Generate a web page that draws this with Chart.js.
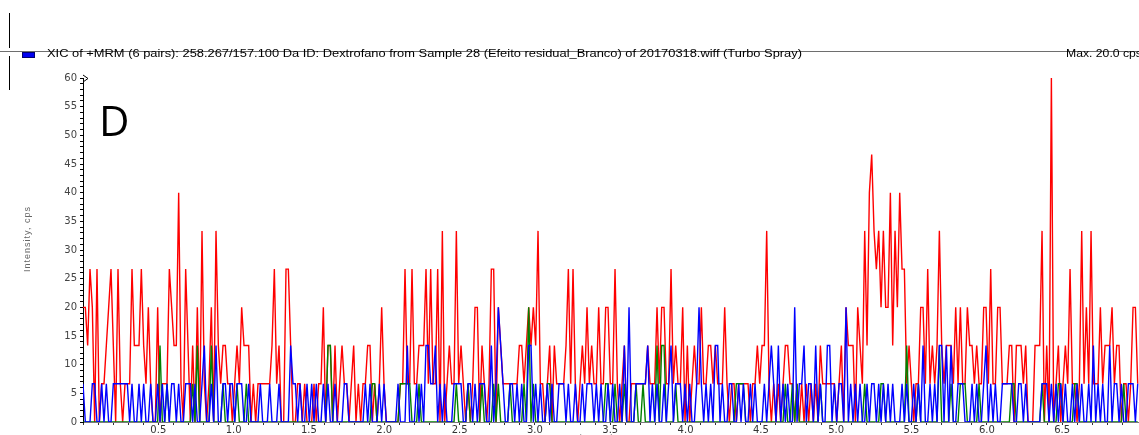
<!DOCTYPE html>
<html>
<head>
<meta charset="utf-8">
<script src="https://cdn.jsdelivr.net/npm/chart.js@4.4.1/dist/chart.umd.min.js"></script>
<style>
  html, body { margin: 0; padding: 0; background: #fff; }
  #wrap { position: relative; width: 1139px; height: 435px; overflow: hidden; }
  #chart { position: absolute; left: 0; top: 0; }
  .txt { position: absolute; white-space: nowrap; font-family: "Liberation Sans", Arial, sans-serif; color: #000; }
</style>
</head>
<body>
<div id="wrap">
  <canvas id="chart" width="1139" height="435"></canvas>

  <!-- pane header -->
  <div style="position:absolute;left:9px;top:13px;width:1px;height:35px;background:#000"></div>
  <div style="position:absolute;left:9px;top:56px;width:1px;height:34px;background:#000"></div>
  <div style="position:absolute;left:0;top:51px;width:1139px;height:1px;background:#6e6e6e"></div>
  <div style="position:absolute;left:22px;top:52px;width:11px;height:4px;background:#0000f0;border:1px solid #000070"></div>
  <div id="hdr" class="txt" style="left:47px;top:48px;font-size:10px;line-height:12px;transform-origin:0 0;">XIC of +MRM (6 pairs): 258.267/157.100 Da ID: Dextrofano from Sample 28 (Efeito residual_Branco) of 20170318.wiff (Turbo Spray)</div>
  <div class="txt" style="left:1066px;top:48px;font-size:10px;line-height:12px;transform:scaleX(1.22);transform-origin:0 0;">Max. 20.0 cps</div>

  <!-- panel letter -->
  <div class="txt" style="left:99px;top:99px;font-family:'Open Sans',sans-serif;font-size:42px;line-height:42px;">D</div>

  <!-- axis titles -->
  <div class="txt" style="left:27px;top:239px;font-size:9px;letter-spacing:1px;color:#666;transform:translate(-50%,-50%) rotate(-90deg);">Intensity, cps</div>
  <div class="txt" style="left:574px;top:433px;font-size:9px;color:#555;letter-spacing:0.6px;">Time, min</div>

  <!-- marker at the top of the intensity axis -->
  <svg style="position:absolute;left:82px;top:74px" width="8" height="9">
    <path d="M1 1 L6 4.5 L1 8" fill="none" stroke="#000" stroke-width="1"/>
  </svg>
</div>

<script>
// Acquisition cycle and detector count scaling
const SCAN_CYCLE_MIN = 0.01549;
const CPS_PER_COUNT = 20 / 3;

// Intensity per scan, in counts (one count = 6.67 cps), transition 1 (red)
const RED_COUNTS = [
  3,3,2,4,3,0,4,0,1,1, 2,3,4,2,0,4,1,0,1,1, 1,4,2,2,2,4,2,1,3,1, 0,0,3,0,1,1,1,4,3,2,
  2,6,1,0,4,2,0,2,0,3, 0,5,1,0,1,3,0,5,2,1, 2,2,1,1,0,1,2,1,3,2, 2,2,0,1,0,1,1,1,1,1,
  1,2,4,1,2,0,0,4,4,2, 0,0,1,1,0,1,0,0,0,1, 0,1,1,3,0,2,2,0,2,0, 1,2,1,1,0,1,2,0,1,0,
  1,1,2,2,0,1,0,1,3,1, 0,0,0,0,0,0,1,1,4,1, 1,4,1,1,2,2,2,4,1,4, 1,1,4,0,5,0,1,2,1,1,
  5,1,2,1,0,1,0,1,3,3, 0,2,1,0,1,4,4,0,3,2, 1,1,1,1,1,1,1,2,2,1, 2,3,2,3,2,5,1,1,0,1,
  2,0,2,1,1,1,1,2,4,1, 4,1,0,1,2,1,3,1,2,1, 1,3,1,1,3,3,1,1,4,1, 0,1,2,0,0,1,1,1,1,1,
  1,1,2,1,1,1,3,1,3,3, 1,1,4,1,2,1,1,3,0,2, 0,1,2,1,1,3,1,1,2,2, 1,2,1,1,1,3,1,0,1,1,
  0,1,1,1,1,1,0,1,1,2, 1,2,2,5,1,0,1,0,1,0, 1,2,2,1,1,0,1,0,1,0, 1,0,1,0,1,0,2,1,1,1,
  1,1,1,0,1,2,0,3,2,2, 2,0,3,2,1,5,2,6,7,5, 4,5,3,5,3,3,6,2,5,3, 6,4,4,1,2,1,0,1,1,3,
  3,1,4,1,2,1,2,5,2,1, 2,2,2,1,3,1,3,1,1,3, 2,2,1,2,1,1,3,3,1,4, 1,1,3,3,1,1,1,2,2,0,
  2,2,2,1,2,0,0,0,2,2, 2,5,0,2,0,9,0,1,2,0, 1,2,1,4,1,1,0,1,5,1, 3,1,5,1,1,1,3,1,2,2,
  2,3,1,2,2,0,1,1,0,1, 3,3,1
];

// Transition 2 (green)
const GREEN_COUNTS = [
  0,0,0,0,0,0,0,0,0,0, 0,0,0,0,0,0,0,0,0,0, 0,0,0,0,0,0,0,0,0,0, 0,0,0,2,0,0,1,0,0,0,
  0,0,0,0,0,0,0,1,0,2, 0,0,0,0,0,2,0,0,0,0, 1,0,0,0,0,0,1,0,0,0, 1,0,0,0,0,0,0,0,0,0,
  0,0,0,0,0,0,0,0,0,0, 0,0,0,0,0,0,0,0,0,0, 0,0,0,0,0,2,2,0,0,0, 0,0,0,0,0,0,0,0,0,0,
  0,0,0,0,1,1,0,0,0,0, 0,0,0,0,0,0,1,1,1,1, 1,0,0,0,1,0,0,0,0,0, 0,0,0,0,0,0,0,0,0,0,
  1,0,0,0,0,1,0,0,0,0, 0,1,0,0,0,0,1,0,1,0, 0,0,0,1,0,0,0,0,0,1, 0,3,0,1,0,0,0,0,0,1,
  1,0,0,0,0,0,0,0,0,0, 0,0,0,0,0,0,0,0,0,0, 0,0,0,0,1,1,0,0,1,0, 0,0,1,0,0,0,0,1,0,0,
  1,0,0,0,0,0,2,0,2,2, 0,0,0,0,1,0,0,0,0,0, 0,0,0,0,0,0,0,0,0,0, 0,0,0,0,0,0,0,0,0,0,
  1,1,1,1,0,0,0,0,0,0, 0,0,0,0,0,0,0,0,0,0, 0,1,0,0,1,0,1,0,0,0, 0,0,0,0,0,0,1,0,0,0,
  0,0,0,0,0,0,0,0,0,0, 0,0,0,0,0,1,0,0,0,0, 0,0,1,1,0,0,0,0,0,0, 0,0,0,2,0,0,0,0,1,0,
  0,0,0,0,0,0,0,2,0,0, 0,0,1,0,0,0,1,1,1,0, 0,0,0,0,1,0,0,0,0,0, 0,0,0,0,0,0,0,0,1,1,
  0,0,0,0,0,0,0,0,0,0, 0,1,0,0,0,0,0,0,1,1, 0,0,0,0,0,1,1,0,0,0, 0,0,0,0,0,0,0,0,0,0,
  0,0,0,0,0,0,1,0,0,0, 0,0,0
];

// Transition 3 (blue)
const BLUE_COUNTS = [
  1,0,0,0,1,1,0,0,1,0, 1,0,0,1,1,1,1,1,1,1, 0,1,0,0,1,0,1,0,0,1, 0,0,1,0,1,0,1,0,1,1,
  0,1,0,0,1,1,1,0,1,0, 0,1,2,0,0,1,0,2,0,0, 1,1,0,1,1,0,1,1,1,0, 0,1,0,0,0,0,1,0,0,0,
  1,0,0,0,1,0,0,0,0,2, 1,1,0,1,0,0,1,0,1,0, 1,0,0,1,0,1,0,0,1,0, 0,0,1,1,0,0,0,0,0,0,
  0,1,0,1,0,0,0,1,0,1, 0,0,0,0,0,1,0,0,0,2, 0,0,0,1,0,1,0,2,2,1, 1,2,0,1,0,1,0,0,0,1,
  1,1,1,0,0,1,1,0,1,0, 1,1,1,0,0,2,0,1,3,2, 1,0,0,1,1,0,1,0,1,0, 0,2,2,0,1,0,1,0,0,1,
  0,1,0,0,1,1,1,0,1,0, 0,1,0,0,1,0,1,1,1,0, 1,0,1,0,0,1,0,1,0,0, 1,0,2,0,3,0,0,1,1,1,
  1,1,2,0,1,0,1,0,0,1, 0,1,2,0,1,1,1,0,1,0, 1,0,0,1,3,1,0,1,0,1, 0,2,2,0,1,0,0,1,1,0,
  0,1,0,1,0,0,1,0,1,0, 0,0,1,0,1,2,1,0,2,0, 1,0,1,0,0,3,0,1,1,2, 0,1,1,0,2,0,1,0,0,2,
  2,0,1,0,1,1,0,3,0,1, 0,1,0,1,0,0,1,0,1,1, 0,1,0,1,0,1,0,1,0,0, 0,1,0,1,0,0,1,0,1,0,
  2,0,0,1,0,1,0,2,2,0, 2,0,2,0,0,1,1,1,0,0, 0,1,0,1,0,0,1,2,0,1, 0,1,0,0,1,1,1,1,1,0,
  0,1,1,0,1,0,0,0,0,0, 0,1,1,1,0,1,0,1,0,1, 0,1,0,0,1,0,1,0,1,0, 0,1,0,2,0,1,0,1,0,0,
  2,0,1,1,0,1,0,0,1,1, 1,0,1
];

// Axis settings
const TIME_MAX = 7.01;
const INTENSITY_MAX = 60;
const TIME_LABEL_STEP = 0.5;
const INTENSITY_LABEL_STEP = 5;

const toPoints = counts => counts.map((c, i) => ({ x: i * SCAN_CYCLE_MIN, y: c * CPS_PER_COUNT }));

// stretch the header line to the pane width it is laid out for
(function fitHeader() {
  const el = document.getElementById('hdr');
  const w = el.getBoundingClientRect().width;
  el.style.transform = 'scaleX(' + (755 / w) + ')';
})();

const ctx = document.getElementById('chart').getContext('2d');
new Chart(ctx, {
  type: 'line',
  data: {
    datasets: [
      { label: 'MRM 3', data: toPoints(BLUE_COUNTS), borderColor: '#0000ff', order: 0 },
      { label: 'MRM 2', data: toPoints(GREEN_COUNTS), borderColor: '#008000', order: 1 },
      { label: 'MRM 1', data: toPoints(RED_COUNTS), borderColor: '#ff0000', order: 2 }
    ]
  },
  options: {
    responsive: false,
    animation: false,
    devicePixelRatio: 1,
    elements: {
      point: { radius: 0 },
      line: { borderWidth: 1.4, tension: 0, fill: false }
    },
    plugins: { legend: { display: false }, tooltip: { enabled: false } },
    layout: { padding: { top: 78, left: 0, right: 0, bottom: 0 } },
    scales: {
      x: {
        type: 'linear',
        min: 0,
        max: TIME_MAX,
        afterFit: s => { s.height = 13; },
        border: { color: '#7a7a7a', width: 1 },
        grid: { drawOnChartArea: false, drawTicks: true, tickLength: 3, color: '#333' },
        ticks: {
          stepSize: 0.1,
          autoSkip: false,
          maxRotation: 0,
          padding: -1,
          color: '#333',
          font: { family: 'DejaVu Sans', size: 10 },
          callback: v => {
            const tenth = Math.round(v * 10);
            if (Math.abs(v * 10 - tenth) > 1e-6 || tenth === 0) return '';
            return (tenth % (TIME_LABEL_STEP * 10) === 0) ? (tenth / 10).toFixed(1) : '';
          }
        }
      },
      y: {
        min: 0,
        max: INTENSITY_MAX,
        afterFit: s => { s.width = 83; },
        border: { color: '#000', width: 1 },
        grid: { drawOnChartArea: false, drawTicks: true, tickLength: 3, color: '#000' },
        ticks: {
          stepSize: 1,
          autoSkip: false,
          padding: 3,
          color: '#444',
          font: { family: 'DejaVu Sans', size: 10 },
          callback: v => (v % INTENSITY_LABEL_STEP === 0 ? String(v) : '')
        }
      }
    }
  }
});
</script>
</body>
</html>
